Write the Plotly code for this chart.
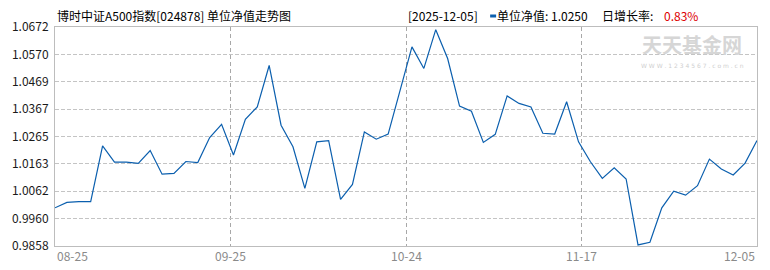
import plotly.graph_objects as go

# ---- data ----
nav = [1.0000, 1.0020, 1.0023, 1.0023, 1.0230, 1.0170, 1.0170, 1.0165, 1.0213, 1.0125,
       1.0128, 1.0172, 1.0168, 1.0261, 1.0310, 1.0196, 1.0329, 1.0375, 1.0529, 1.0307,
       1.0227, 1.0072, 1.0245, 1.0250, 1.0031, 1.0087, 1.0282, 1.0255, 1.0274, 1.0441,
       1.0598, 1.0518, 1.0662, 1.0555, 1.0378, 1.0359, 1.0243, 1.0273, 1.0416, 1.0388,
       1.0375, 1.0277, 1.0274, 1.0394, 1.0245, 1.0171, 1.0109, 1.0149, 1.0107, 0.9862,
       0.9872, 1.0000, 1.0062, 1.0047, 1.0082, 1.0181, 1.0144, 1.0122, 1.0166, 1.0250]
x_labels = ["08-25", "09-25", "10-24", "11-17", "12-05"]
y_labels = ["0.9858", "0.9960", "1.0062", "1.0163", "1.0265",
            "1.0367", "1.0469", "1.0570", "1.0672"]
fund_title = "博时中证A500指数[024878] 单位净值走势图"
last_date = "2025-12-05"
watermark = "天天基金网"
watermark_url = "W W W . 1 2 3 4 5 6 7 . c o m . c n"

# ---- derived ----
n = len(nav)
idx = list(range(n))
xt = [i * (n - 1) / (len(x_labels) - 1) for i in range(len(x_labels))]
yt = [float(s) for s in y_labels]
growth = (nav[-1] / nav[-2] - 1) * 100

W, H = 770, 270
L, R, T, B = 53, 12, 27, 24
PW, PH = W - L - R, H - T - B
def px(p):
    return (p - L) / PW
def py(p):
    return (H - B - p) / PH

FONT = "Noto Sans CJK SC"
LINE = "#0b5fae"

fig = go.Figure()
fig.add_trace(go.Scatter(x=idx, y=nav, mode="lines",
                         line=dict(color=LINE, width=1.2),
                         hoverinfo="skip", showlegend=False))

fig.update_layout(
    width=W, height=H,
    margin=dict(l=L, r=R, t=T, b=B, pad=0),
    paper_bgcolor="white", plot_bgcolor="white",
    font=dict(family=FONT, size=12, color="#000"),
    xaxis=dict(range=[0, n - 1], tickvals=xt, showticklabels=False,
               showgrid=True, gridcolor="#a8a8a8", griddash="4px,3px", gridwidth=1,
               showline=True, linecolor="#bdbdbd", linewidth=1, mirror=True,
               zeroline=False, ticks=""),
    yaxis=dict(range=[yt[0], yt[-1]], tickvals=yt, ticktext=y_labels,
               tickfont=dict(family=FONT, size=12, color="#1a1a1a"),
               showgrid=True, gridcolor="#c4c4c4", griddash="4px,2px", gridwidth=1,
               showline=True, linecolor="#bdbdbd", linewidth=1, mirror=True,
               zeroline=False, ticks="", ticklabelstandoff=3),
)

ann = []
# title
ann.append(dict(text=fund_title, xref="paper", yref="paper", x=px(53), y=py(16),
                xanchor="left", yanchor="middle", showarrow=False,
                font=dict(family=FONT, size=12, color="#000")))
# header right
ann.append(dict(text="[" + last_date + "]", xref="paper", yref="paper", x=px(406), y=py(16),
                xanchor="left", yanchor="middle", showarrow=False,
                font=dict(family=FONT, size=12, color="#000")))
ann.append(dict(text="单位净值: " + f"{nav[-1]:.4f}", xref="paper", yref="paper", x=px(495), y=py(16),
                xanchor="left", yanchor="middle", showarrow=False,
                font=dict(family=FONT, size=12, color="#000")))
ann.append(dict(text="日增长率: ", xref="paper", yref="paper", x=px(600), y=py(16),
                xanchor="left", yanchor="middle", showarrow=False,
                font=dict(family=FONT, size=12, color="#000")))
ann.append(dict(text=f"{growth:.2f}%", xref="paper", yref="paper", x=px(663), y=py(16),
                xanchor="left", yanchor="middle", showarrow=False,
                font=dict(family=FONT, size=12, color="#dd0000")))
# watermark
ann.append(dict(text=watermark, xref="paper", yref="paper", x=px(693), y=py(44),
                xanchor="center", yanchor="middle", showarrow=False,
                font=dict(family=FONT, size=20, color="#d6d6d6", weight="bold")))
ann.append(dict(text=watermark_url, xref="paper", yref="paper", x=px(693), y=py(65),
                xanchor="center", yanchor="middle", showarrow=False,
                font=dict(family="DejaVu Sans", size=6, color="#cfcfcf")))
# x tick labels
for i, (v, lab) in enumerate(zip(xt, x_labels)):
    anchor = "left" if i == 0 else ("right" if i == len(xt) - 1 else "center")
    ann.append(dict(text=lab, xref="x", yref="paper", x=v, y=py(256),
                    xanchor=anchor, yanchor="middle", showarrow=False,
                    font=dict(family=FONT, size=12, color="#8a8a8a")))
fig.update_layout(annotations=ann)

# legend marker
fig.add_shape(type="rect", xref="paper", yref="paper",
              x0=px(490), x1=px(496), y0=py(17.5), y1=py(14.5),
              fillcolor=LINE, line=dict(width=0))

fig.write_html("out.html")
